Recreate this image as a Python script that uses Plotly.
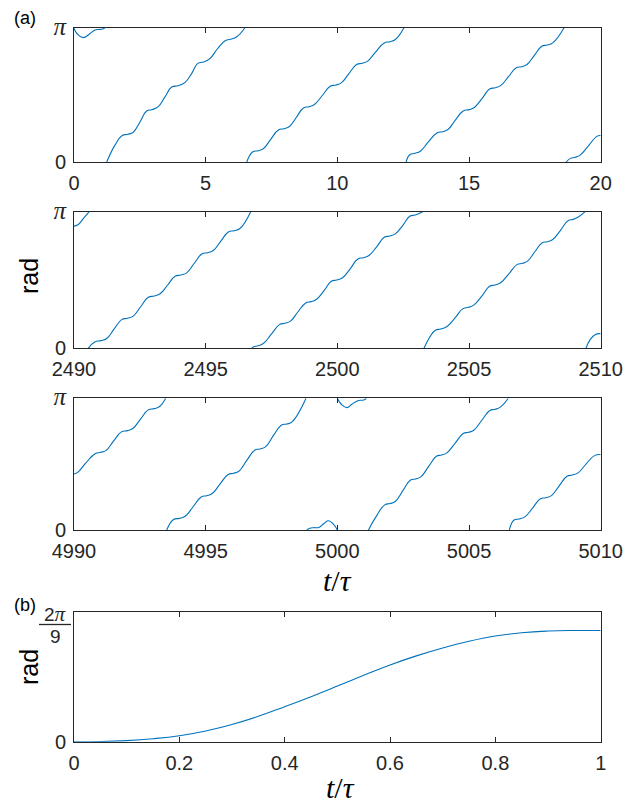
import math
import plotly.graph_objects as go

PI = math.pi

# ---------------- data ----------------
# Panel (a) top: t/tau in [0, 20]
a1_t_seg1 = [0, 0.12, 0.35, 0.6, 0.8, 0.95, 1.08, 1.18]
a1_y_seg1 = [3.13, 3.0, 2.91, 3.0, 3.09, 3.10, 3.11, 3.1416]
a1_t_seg2 = [1.24, 1.56, 1.82, 2.04, 2.25, 2.51, 2.76, 2.96, 3.20, 3.46, 3.71, 3.96, 4.22,
             4.47, 4.70, 4.92, 5.17, 5.44, 5.74, 5.95, 6.18, 6.49]
a1_y_seg2 = [0, 0.40, 0.615, 0.648, 0.695, 0.943, 1.193, 1.224, 1.294, 1.528, 1.754, 1.785,
             1.864, 2.074, 2.307, 2.339, 2.425, 2.643, 2.838, 2.87, 2.93, 3.1416]
a1_t_seg3 = [6.56, 6.78, 7.0, 7.2, 7.47, 7.76, 7.98, 8.18, 8.44, 8.71, 8.93, 9.13, 9.42, 9.73,
             9.95, 10.15, 10.43, 10.73, 10.95, 11.15, 11.45, 11.78, 12.0, 12.2, 12.53]
a1_y_seg3 = [0, 0.235, 0.265, 0.315, 0.53, 0.75, 0.78, 0.83, 1.04, 1.264, 1.294, 1.344, 1.55,
             1.77, 1.80, 1.85, 2.06, 2.28, 2.31, 2.36, 2.57, 2.785, 2.815, 2.865, 3.1416]
a1_t_seg4 = [12.61, 12.75, 12.95, 13.15, 13.45, 13.78, 14.0, 14.2, 14.48, 14.78, 15.0, 15.2,
             15.5, 15.78, 16.0, 16.2, 16.5, 16.78, 17.0, 17.2, 17.48, 17.76, 17.98, 18.18, 18.61]
a1_y_seg4 = [0, 0.17, 0.203, 0.253, 0.465, 0.679, 0.709, 0.76, 0.98, 1.195, 1.225, 1.275, 1.49,
             1.707, 1.737, 1.787, 1.995, 2.20, 2.23, 2.28, 2.495, 2.707, 2.737, 2.787, 3.1416]
a1_t_seg5 = [18.69, 18.85, 19.03, 19.22, 19.55, 19.85, 20.0]
a1_y_seg5 = [0, 0.085, 0.11, 0.16, 0.39, 0.60, 0.62]

# Panel (a) middle: t/tau in [2490, 2510]
a2_t_seg1 = [2490.0, 2490.15, 2490.35, 2490.58]
a2_y_seg1 = [2.81, 2.84, 2.98, 3.1416]
a2_t_seg2 = [2490.54, 2490.8, 2491.02, 2491.24, 2491.52, 2491.81, 2492.03, 2492.25, 2492.53,
             2492.82, 2493.05, 2493.27, 2493.55, 2493.84, 2494.06, 2494.28, 2494.56, 2494.85,
             2495.07, 2495.29, 2495.57, 2495.86, 2496.08, 2496.3, 2496.71]
a2_y_seg2 = [0, 0.15, 0.176, 0.226, 0.44, 0.66, 0.69, 0.74, 0.955, 1.173, 1.203, 1.253, 1.45,
             1.656, 1.686, 1.736, 1.95, 2.169, 2.199, 2.249, 2.46, 2.675, 2.705, 2.755, 3.1416]
a2_t_seg3 = [2496.75, 2496.81, 2497.0, 2497.19, 2497.5, 2497.8, 2498.01, 2498.22, 2498.5,
             2498.8, 2499.0, 2499.2, 2499.5, 2499.77, 2499.98, 2500.2, 2500.5, 2500.78, 2500.99,
             2501.2, 2501.5, 2501.78, 2502.0, 2502.2, 2502.5, 2502.75, 2502.95, 2503.1, 2503.24]
a2_y_seg3 = [0, 0.03, 0.06, 0.11, 0.33, 0.545, 0.575, 0.625, 0.835, 1.043, 1.073, 1.123, 1.33,
             1.541, 1.571, 1.621, 1.84, 2.054, 2.084, 2.134, 2.34, 2.552, 2.582, 2.632, 2.84,
             3.035, 3.065, 3.10, 3.1416]
a2_t_seg4 = [2503.29, 2503.5, 2503.72, 2503.93, 2504.15, 2504.47, 2504.77, 2504.98, 2505.18,
             2505.5, 2505.78, 2505.99, 2506.2, 2506.52, 2506.82, 2507.03, 2507.22, 2507.5,
             2507.77, 2507.98, 2508.18, 2508.48, 2508.76, 2508.96, 2509.15, 2509.41]
a2_y_seg4 = [0, 0.25, 0.414, 0.444, 0.494, 0.70, 0.912, 0.942, 0.992, 1.21, 1.426, 1.456,
             1.506, 1.72, 1.924, 1.954, 2.004, 2.22, 2.422, 2.452, 2.502, 2.72, 2.935, 2.965,
             3.02, 3.1416]
a2_t_seg5 = [2509.44, 2509.6, 2509.8, 2510.0]
a2_y_seg5 = [0, 0.2, 0.32, 0.335]

# Panel (a) bottom: t/tau in [4990, 5010]
a3_t_seg1 = [4990.0, 4990.15, 4990.45, 4990.8, 4991.02, 4991.22, 4991.5, 4991.8, 4992.03,
             4992.23, 4992.52, 4992.82, 4993.05, 4993.25, 4993.48]
a3_y_seg1 = [1.336, 1.38, 1.6, 1.82, 1.853, 1.9, 2.12, 2.34, 2.37, 2.42, 2.64, 2.865, 2.895,
             2.945, 3.1416]
a3_t_seg2 = [4993.52, 4993.78, 4994.0, 4994.22, 4994.53, 4994.83, 4995.04, 4995.25, 4995.55,
             4995.85, 4996.05, 4996.26, 4996.56, 4996.86, 4997.06, 4997.27, 4997.57, 4997.87,
             4998.08, 4998.28, 4998.81]
a3_y_seg2 = [0, 0.25, 0.278, 0.328, 0.56, 0.789, 0.819, 0.869, 1.10, 1.322, 1.352, 1.402,
             1.66, 1.903, 1.933, 1.983, 2.25, 2.499, 2.529, 2.579, 3.1416]
a3_t_seg3 = [4998.84, 4998.95, 4999.1, 4999.3, 4999.5, 4999.66, 4999.85, 5000.0]
a3_y_seg3 = [0, 0.04, 0.055, 0.06, 0.16, 0.22, 0.14, 0]
a3_t_seg4 = [5000.0, 5000.15, 5000.36, 5000.55, 5000.8, 5001.0, 5001.1]
a3_y_seg4 = [3.1416, 3.0, 2.918, 3.0, 3.09, 3.10, 3.1416]
a3_t_seg5 = [5001.18, 5001.5, 5001.8, 5002.0, 5002.2, 5002.5, 5002.77, 5002.97, 5003.17,
             5003.48, 5003.76, 5003.96, 5004.16, 5004.48, 5004.78, 5004.98, 5005.18, 5005.5,
             5005.79, 5005.99, 5006.19, 5006.49]
a3_y_seg5 = [0, 0.35, 0.60, 0.63, 0.68, 0.95, 1.187, 1.217, 1.267, 1.53, 1.759, 1.789, 1.839,
             2.08, 2.30, 2.33, 2.38, 2.63, 2.849, 2.879, 2.93, 3.1416]
a3_t_seg6 = [5006.53, 5006.7, 5006.9, 5007.12, 5007.42, 5007.7, 5007.92, 5008.13, 5008.43,
             5008.72, 5008.93, 5009.14, 5009.45, 5009.78, 5010.0]
a3_y_seg6 = [0, 0.232, 0.262, 0.312, 0.53, 0.74, 0.77, 0.82, 1.06, 1.282, 1.312, 1.362, 1.58,
             1.78, 1.80]

# Panel (b): t/tau in [0, 1]
b_t = [0, 0.05, 0.1, 0.15, 0.2, 0.25, 0.3, 0.35, 0.4, 0.45, 0.5, 0.55, 0.6, 0.65, 0.7, 0.75,
       0.8, 0.85, 0.9, 0.95, 1.0]
b_y = [0, 0.001, 0.006, 0.016, 0.032, 0.058, 0.093, 0.137, 0.189, 0.243, 0.300, 0.358, 0.414,
       0.463, 0.506, 0.542, 0.570, 0.588, 0.597, 0.600, 0.600]

x1_ticks = [0, 5, 10, 15, 20]
x2_ticks = [2490, 2495, 2500, 2505, 2510]
x3_ticks = [4990, 4995, 5000, 5005, 5010]
x4_ticks = [0, 0.2, 0.4, 0.6, 0.8, 1]
x4_ticktext = ["0", "0.2", "0.4", "0.6", "0.8", "1"]

# ---------------- figure ----------------
OFF = 8                       # page body margin of the html page
W, H = 636 - OFF, 806 - OFF
LINE = "#0072BD"
AX = "#262626"
SANS = "Liberation Sans, Arial, sans-serif"
SERIF = "Liberation Serif, DejaVu Serif, serif"


def px(x):
    return (x - OFF) / W


def py(y):
    return 1 - (y - OFF) / H


fig = go.Figure()

panels = [
    ([(a1_t_seg1, a1_y_seg1), (a1_t_seg2, a1_y_seg2), (a1_t_seg3, a1_y_seg3),
      (a1_t_seg4, a1_y_seg4), (a1_t_seg5, a1_y_seg5)], "x", "y"),
    ([(a2_t_seg1, a2_y_seg1), (a2_t_seg2, a2_y_seg2), (a2_t_seg3, a2_y_seg3),
      (a2_t_seg4, a2_y_seg4), (a2_t_seg5, a2_y_seg5)], "x2", "y2"),
    ([(a3_t_seg1, a3_y_seg1), (a3_t_seg2, a3_y_seg2), (a3_t_seg3, a3_y_seg3),
      (a3_t_seg4, a3_y_seg4), (a3_t_seg5, a3_y_seg5), (a3_t_seg6, a3_y_seg6)], "x3", "y3"),
    ([(b_t, b_y)], "x4", "y4"),
]
for segs, xa, ya in panels:
    for tt, yy in segs:
        fig.add_trace(go.Scatter(x=tt, y=yy, xaxis=xa, yaxis=ya, mode="lines",
                                 line=dict(color=LINE, width=1.1, shape="spline", smoothing=1.3),
                                 showlegend=False, hoverinfo="skip"))

# pixel geometry of the axes boxes (page pixels)
xl, xr = 74, 600.7
boxes = [(27.7, 162.0), (211.7, 348.3), (398.3, 530.0), (612.3, 741.7)]

xdom = [px(xl), px(xr)]
pi_lbl = "<span style='font-family:Liberation Serif;font-size:25px'><i>π</i></span>"

common_x = dict(showgrid=False, zeroline=False, showline=True, linecolor=AX, linewidth=1,
                mirror="ticks", ticks="inside", ticklen=5, tickcolor=AX, tickwidth=1,
                automargin=False, ticklabelstandoff=3,
                tickfont=dict(family=SANS, size=20, color=AX))
common_y = dict(showgrid=False, zeroline=False, showline=True, linecolor=AX, linewidth=1,
                mirror=True, ticks="inside", ticklen=5, tickcolor=AX, tickwidth=1,
                automargin=False, ticklabelstandoff=3,
                tickfont=dict(family=SANS, size=20, color=AX))

xranges = [[0, 20], [2490, 2510], [4990, 5010], [0, 1]]
xtickv = [x1_ticks, x2_ticks, x3_ticks, x4_ticks]
layout = {}
for i in range(4):
    n = "" if i == 0 else str(i + 1)
    top, bot = boxes[i]
    xa = dict(common_x, domain=xdom, range=xranges[i], tickvals=xtickv[i],
              anchor="y" + n)
    if i == 3:
        xa["ticktext"] = x4_ticktext
    layout["xaxis" + n] = xa
    if i < 3:
        ya = dict(common_y, domain=[py(bot), py(top)], range=[0, PI], tickvals=[0, PI],
                  ticktext=["0", pi_lbl], anchor="x" + n)
    else:
        ya = dict(common_y, domain=[py(bot), py(top)], range=[0, 2 * PI / 9],
                  tickvals=[0, 2 * PI / 9], ticktext=["0", ""], anchor="x" + n)
    layout["yaxis" + n] = ya
    # right-side minor ticks
    if i < 3:
        r = dict(range=[0, 3.6], tickvals=[1, 2, 3])
    else:
        r = dict(range=[0, 1], tickvals=[0.25, 0.5, 0.75])
    layout["yaxis" + str(i + 5)] = dict(r, overlaying="y" + n, side="right", anchor="x" + n,
                                        showgrid=False, zeroline=False, showline=False,
                                        ticks="inside", ticklen=5, tickcolor=AX, tickwidth=1,
                                        showticklabels=False, automargin=False)

fig.update_layout(**layout)

ann = [
    dict(text="(a)", x=px(12), y=py(6), xanchor="left", yanchor="top",
         font=dict(family=SANS, size=18, color="black")),
    dict(text="(b)", x=px(12), y=py(593), xanchor="left", yanchor="top",
         font=dict(family=SANS, size=18, color="black")),
    dict(text="rad", x=px(29), y=py(276), xanchor="center", yanchor="middle",
         textangle=-90, font=dict(family=SANS, size=25, color="black")),
    dict(text="rad", x=px(29), y=py(667), xanchor="center", yanchor="middle",
         textangle=-90, font=dict(family=SANS, size=25, color="black")),
    dict(text="<i>t</i>/<i>τ</i>", x=px(337), y=py(580), xanchor="center",
         yanchor="middle", font=dict(family=SERIF, size=30, color="black")),
    dict(text="<i>t</i>/<i>τ</i>", x=px(340), y=py(787), xanchor="center",
         yanchor="middle", font=dict(family=SERIF, size=30, color="black")),
    dict(text="2<span style='font-family:Liberation Serif;font-size:21px'><i>π</i></span>",
         x=px(55), y=py(614), xanchor="center", yanchor="middle",
         font=dict(family=SANS, size=19, color=AX)),
    dict(text="9", x=px(55), y=py(636), xanchor="center", yanchor="middle",
         font=dict(family=SANS, size=19, color=AX)),
]
for a in ann:
    a.update(xref="paper", yref="paper", showarrow=False)

fig.update_layout(
    width=W, height=H, margin=dict(l=0, r=0, t=0, b=0),
    paper_bgcolor="white", plot_bgcolor="white",
    annotations=ann,
    shapes=[dict(type="line", xref="paper", yref="paper", x0=px(39), x1=px(71),
                 y0=py(624.5), y1=py(624.5), line=dict(color=AX, width=1.3))],
    showlegend=False,
)

fig.write_html("out.html")
